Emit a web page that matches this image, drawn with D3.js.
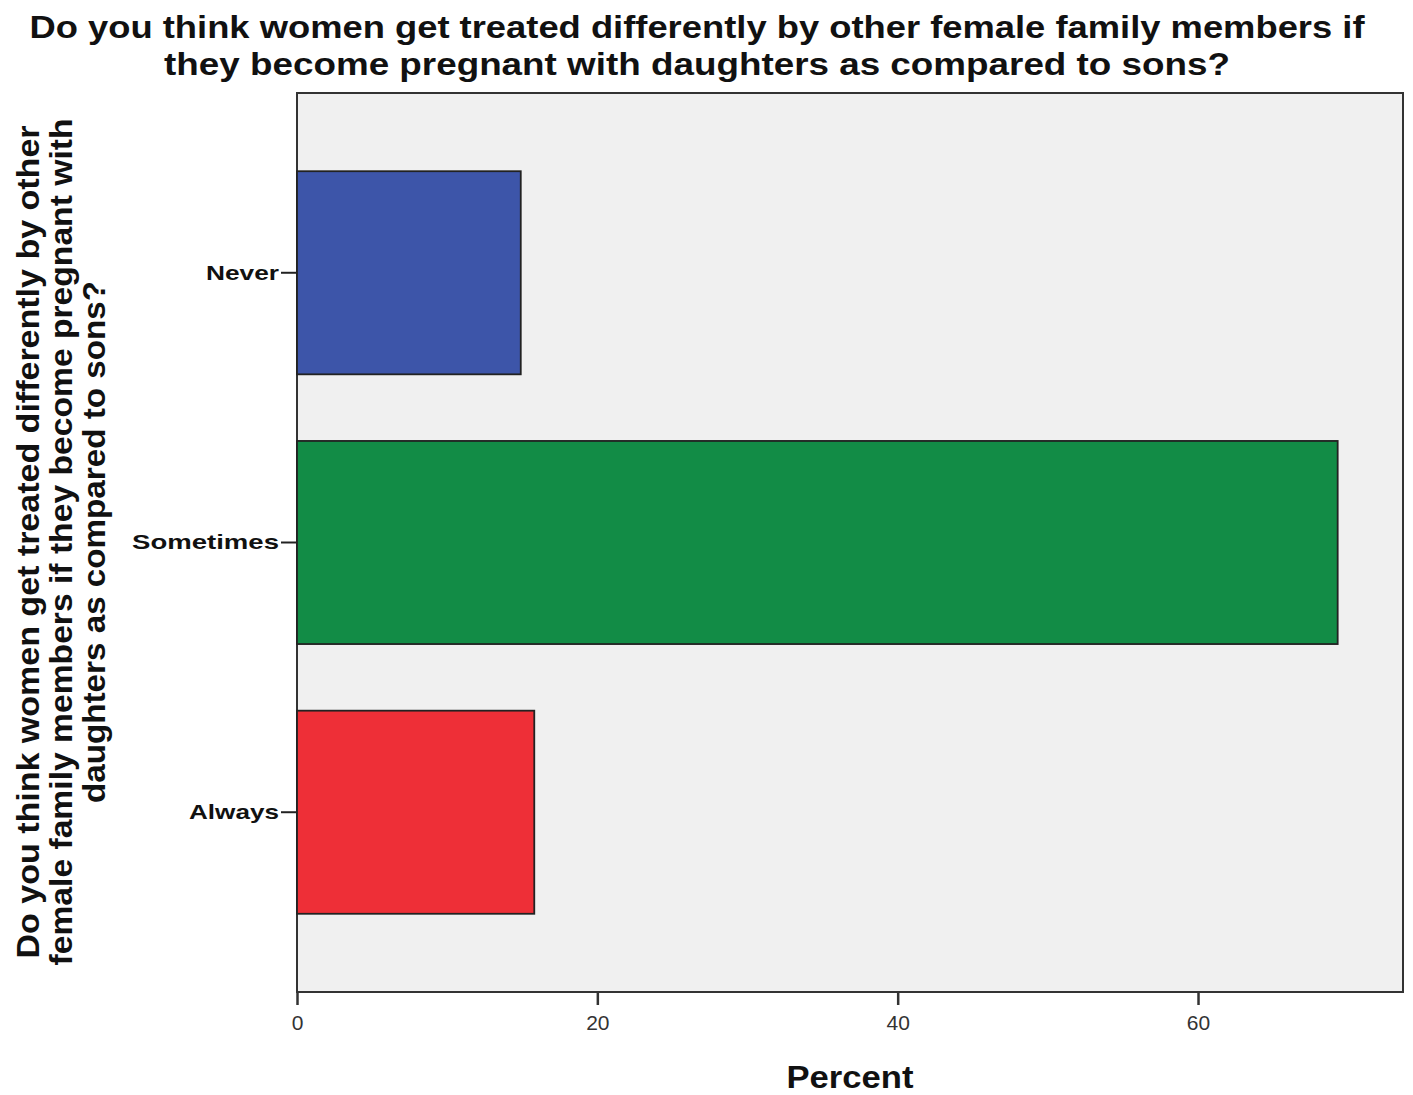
<!DOCTYPE html>
<html><head><meta charset="utf-8">
<script src="https://cdn.jsdelivr.net/npm/d3@7"></script>
<style>body{margin:0;background:#fff}svg{display:block}</style>
</head><body>
<svg id="c" width="1413" height="1095"></svg>
<script>
const categories = ["Never", "Sometimes", "Always"];
const percents = [14.9, 69.3, 15.8];
const colors = ["#3d55a9", "#128c46", "#ee2f37"];
const xTicks = [0, 20, 40, 60];
const titleLines = ["Do you think women get treated differently by other female family members if",
                    "they become pregnant with daughters as compared to sons?"];
const yTitleLines = ["Do you think women get treated differently by other",
                     "female family members if they become pregnant with",
                     "daughters as compared to sons?"];
const xTitle = "Percent";

const FONT = "Liberation Sans, Arial, sans-serif";
const svg = d3.select("#c");
const L = 297, R = 1403, T = 93, B = 992;
const x = d3.scaleLinear().domain([0, 73.65]).range([L, R]);
const y = d3.scaleBand().domain(categories).range([T, B]).paddingInner(0.247).paddingOuter(0.29);

svg.append("rect").attr("x", L).attr("y", T).attr("width", R - L).attr("height", B - T)
  .attr("fill", "#f0f0f0").attr("stroke", "#333").attr("stroke-width", 2);

svg.selectAll("rect.bar").data(categories).join("rect").attr("class", "bar")
  .attr("x", x(0)).attr("y", d => y(d))
  .attr("width", (d, i) => x(percents[i]) - x(0)).attr("height", y.bandwidth())
  .attr("fill", (d, i) => colors[i]).attr("stroke", "#222").attr("stroke-width", 1.8);

// x axis
const xa = svg.append("g").attr("transform", `translate(0,${B})`)
  .call(d3.axisBottom(x).tickValues(xTicks).tickSize(13).tickPadding(10).tickFormat(d3.format("d")));
xa.select(".domain").remove();
xa.selectAll("line").attr("stroke", "#333").attr("stroke-width", 2.5);
xa.selectAll("text").attr("font-family", FONT).attr("font-size", 21).attr("fill", "#333");

// y axis
const labelWidths = {"Never": 73, "Sometimes": 147, "Always": 90};
const ya = svg.append("g").attr("transform", `translate(${L},0)`)
  .call(d3.axisLeft(y).tickSize(16).tickPadding(2));
ya.select(".domain").remove();
ya.selectAll("line").attr("stroke", "#222").attr("stroke-width", 2);
ya.selectAll("text").attr("font-family", FONT).attr("font-size", 21)
  .attr("font-weight", "bold").attr("fill", "#111")
  .attr("textLength", d => labelWidths[d]).attr("lengthAdjust", "spacingAndGlyphs");

// title
svg.append("g").selectAll("text").data(titleLines).join("text")
  .attr("x", 697).attr("y", (d, i) => 38 + i * 37)
  .attr("text-anchor", "middle").attr("font-family", FONT)
  .attr("font-size", 32).attr("font-weight", "bold").attr("fill", "#111")
  .attr("textLength", (d, i) => i === 0 ? 1335 : 1066).attr("lengthAdjust", "spacingAndGlyphs")
  .text(d => d);

// y title
svg.append("g").selectAll("text").data(yTitleLines).join("text")
  .attr("transform", (d, i) => `translate(${39 + i * 33},542) rotate(-90)`)
  .attr("text-anchor", "middle").attr("font-family", FONT)
  .attr("font-size", 31).attr("font-weight", "bold").attr("fill", "#111")
  .attr("textLength", (d, i) => [833, 847, 522][i]).attr("lengthAdjust", "spacingAndGlyphs")
  .text(d => d);

// x title
svg.append("text").attr("x", 850).attr("y", 1088).attr("text-anchor", "middle")
  .attr("font-family", FONT).attr("font-size", 31)
  .attr("font-weight", "bold").attr("fill", "#111")
  .attr("textLength", 127).attr("lengthAdjust", "spacingAndGlyphs").text(xTitle);
</script>
</body></html>
